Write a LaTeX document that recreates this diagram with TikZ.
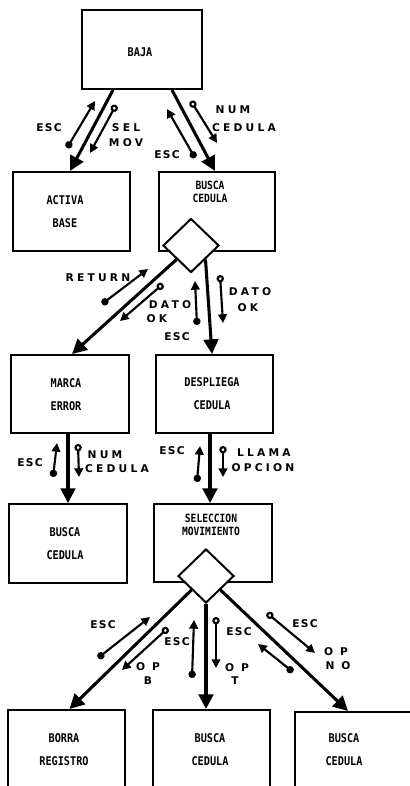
\documentclass[tikz,border=0pt]{standalone}
\usepackage{fontspec}
\usetikzlibrary{arrows.meta,shapes.geometric,calc}
\newfontfamily\boxfont[FakeStretch=0.85]{DejaVu Sans Mono}
\newfontfamily\lblfont[LetterSpace=12]{DejaVu Sans}
\newfontfamily\wlblfont[LetterSpace=30]{DejaVu Sans}
\tikzset{
  box/.style 2 args={draw, line width=1.5pt, minimum width=#1*0.75pt, minimum height=#2*0.75pt, inner sep=0pt},
  btxt/.style={font=\boxfont\bfseries\fontsize{9}{17.25}\selectfont, align=center, inner sep=0pt},
  btxtt/.style={font=\boxfont\bfseries\fontsize{8.5}{9.8}\selectfont, align=center, inner sep=0pt},
  lbl/.style={font=\lblfont\bfseries\fontsize{8}{9}\selectfont, inner sep=0pt},
  wlbl/.style={font=\wlblfont\bfseries\fontsize{8}{9}\selectfont, inner sep=0pt},
  dia/.style={draw, diamond, fill=white, line width=1.5pt, minimum width=56*0.75pt, minimum height=54*0.75pt, inner sep=0pt},
  mainarr/.style={line width=2.3pt, -{Triangle[length=11pt,width=11pt]}},
  sdot/.style={line width=1.6pt, {Circle[length=5.5pt]}-{Triangle[length=6.5pt,width=6.5pt]}},
  scirc/.style={line width=1.6pt, {Circle[open,length=5.5pt]}-{Triangle[length=6.5pt,width=6.5pt]}}
}
\begin{document}
\begin{tikzpicture}[x=0.75pt,y=-0.75pt]
\useasboundingbox (0,0) rectangle (410,786);
\clip (0,0) rectangle (410,786);
% boxes
\node[box={120}{79}] (baja) at (142,49.5) {};
\node[box={117}{79}] (activa) at (71.5,211.5) {};
\node[box={116}{79}] (busca1) at (217,211.5) {};
\node[box={118}{78}] (marca) at (70,394) {};
\node[box={117}{78}] (despl) at (214.5,394) {};
\node[box={118}{79}] (busca2) at (68,543.5) {};
\node[box={118}{78}] (selec) at (213,543) {};
\node[box={117}{120}] (borra) at (66.5,770) {};
\node[box={117}{120}] (busca3) at (211.5,770) {};
\node[box={120}{120}] (busca4) at (355,772) {};
\node[dia] (d1) at (191,245.5) {};
\node[dia] (d2) at (206,576) {};
% box texts
\node[btxt] (tbaja) at (140,52) {BAJA};
\node[btxt] (tactiva) at (65,212) {ACTIVA\\BASE};
\node[btxtt] (tbusca1) at (210,192) {BUSCA\\CEDULA};
\node[btxt] (tmarca) at (66,394.5) {MARCA\\ERROR};
\node[btxt] (tdespl) at (212,394) {DESPLIEGA\\CEDULA};
\node[btxt] (tbusca2) at (65,543.5) {BUSCA\\CEDULA};
\node[btxtt] (tselec) at (211,525) {SELECCION\\MOVIMIENTO};
\node[btxt] (tborra) at (64,749.5) {BORRA\\REGISTRO};
\node[btxt] (tbusca3) at (210,749.5) {BUSCA\\CEDULA};
\node[btxt] (tbusca4) at (344,749.5) {BUSCA\\CEDULA};
% main connectors
\draw[mainarr] ($(baja.south)+(-29,0)$) -- ($(activa.north)+(-1.5,0)$);
\draw[mainarr] ($(baja.south)+(30,0)$) -- ($(busca1.north)+(-2,0)$);
\draw[mainarr] (d1.south west) -- ($(marca.north)+(2,0)$);
\draw[mainarr] (d1.south east) -- ($(despl.north)+(-2.5,0)$);
\draw[mainarr] ($(marca.south)+(-2,0)$) -- (busca2.north);
\draw[mainarr] ($(despl.south)+(-4.5,0)$) -- ($(selec.north)+(-3,0)$);
\draw[mainarr] (d2.south west) -- ($(borra.north)+(3,0)$);
\draw[mainarr] (d2.south) -- ($(busca3.north)+(-5.5,0)$);
\draw[mainarr] (d2.south east) -- ($(busca4.north)+(-7,0)$);
% small arrow coordinates
\coordinate (a1) at (67,148); \coordinate (a2) at (95,101);
\coordinate (b1) at (116,105); \coordinate (b2) at (90,153);
\coordinate (c1) at (195,158); \coordinate (c2) at (167,109);
\coordinate (e1) at (191,101); \coordinate (e2) at (217,143);
\coordinate (f1) at (102,304); \coordinate (f2) at (148,269);
\coordinate (g1) at (163,284); \coordinate (g2) at (120,321);
\coordinate (h1) at (197,325); \coordinate (h2) at (195,281);
\coordinate (i1) at (220,275); \coordinate (i2) at (223,323);
\coordinate (j1) at (53,477); \coordinate (j2) at (57,443);
\coordinate (k1) at (78,444); \coordinate (k2) at (79,477);
\coordinate (l1) at (197,482); \coordinate (l2) at (200,446);
\coordinate (m1) at (223,446); \coordinate (m2) at (223,477);
\coordinate (n1) at (98,658); \coordinate (n2) at (150,617);
\coordinate (o1) at (168,628); \coordinate (o2) at (122,670);
\coordinate (p1) at (192,678); \coordinate (p2) at (194,620);
\coordinate (q1) at (216,617); \coordinate (q2) at (216,668);
\coordinate (r1) at (267,613); \coordinate (r2) at (315,653);
\coordinate (s1) at (293,672); \coordinate (s2) at (258,644);
\draw[sdot] (a1) -- (a2);
\draw[scirc] (b1) -- (b2);
\draw[sdot] (c1) -- (c2);
\draw[scirc] (e1) -- (e2);
\draw[sdot] (f1) -- (f2);
\draw[scirc] (g1) -- (g2);
\draw[sdot] (h1) -- (h2);
\draw[scirc] (i1) -- (i2);
\draw[sdot] (j1) -- (j2);
\draw[scirc] (k1) -- (k2);
\draw[sdot] (l1) -- (l2);
\draw[scirc] (m1) -- (m2);
\draw[sdot] (n1) -- (n2);
\draw[scirc] (o1) -- (o2);
\draw[sdot] (p1) -- (p2);
\draw[scirc] (q1) -- (q2);
\draw[scirc] (r1) -- (r2);
\draw[sdot] (s1) -- (s2);
% labels
\node[lbl] (L1) at (49,128) {ESC};
\node[wlbl] (L2) at (126,128) {SEL};
\node[wlbl] (L3) at (126,143) {MOV};
\node[wlbl] (L4) at (233,110) {NUM};
\node[wlbl] (L5) at (244,128) {CEDULA};
\node[lbl] (L6) at (167,155) {ESC};
\node[wlbl] (L7) at (98,278) {RETURN};
\node[wlbl] (L8) at (170,305) {DATO};
\node[wlbl] (L9) at (157,319) {OK};
\node[wlbl] (L10) at (250,292) {DATO};
\node[wlbl] (L11) at (248,308) {OK};
\node[lbl] (L12) at (177,337) {ESC};
\node[lbl] (L13) at (30,463) {ESC};
\node[wlbl] (L14) at (105,455) {NUM};
\node[wlbl] (L15) at (117,469) {CEDULA};
\node[lbl] (L16) at (172,451) {ESC};
\node[wlbl] (L17) at (264,453) {LLAMA};
\node[wlbl] (L18) at (263,468) {OPCION};
\node[lbl] (L19) at (103,625) {ESC};
\node[lbl] (L20) at (177,642) {ESC};
\node[wlbl] (L21) at (148,667) {O P};
\node[wlbl] (L22) at (148,681) {B};
\node[lbl] (L23) at (239,632) {ESC};
\node[wlbl] (L24) at (237,668) {O P};
\node[wlbl] (L25) at (235,681) {T};
\node[lbl] (L26) at (305,624) {ESC};
\node[wlbl] (L27) at (336,652) {O P};
\node[wlbl] (L28) at (338,666) {N O};
\end{tikzpicture}
\end{document}
